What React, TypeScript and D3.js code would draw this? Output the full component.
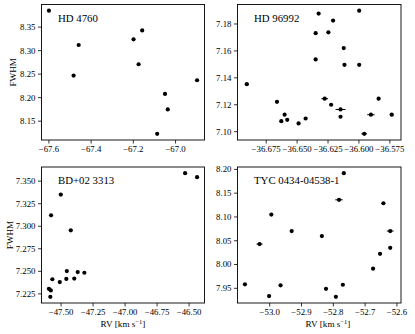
import * as d3 from "d3";

// HD 4760
const hd4760RV = [-67.6, -67.459, -67.483, -67.199, -67.158, -67.175, -67.05, -67.037, -67.087, -66.898];
const hd4760FWHM = [8.385, 8.312, 8.247, 8.324, 8.343, 8.271, 8.208, 8.175, 8.123, 8.237];
const hd4760Err = [0, 0, 0, 0, 0, 0, 0, 0, 0, 0];
const hd4760XTicks = [-67.6, -67.4, -67.2, -67.0];
const hd4760YTicks = [8.15, 8.2, 8.25, 8.3, 8.35];

// HD 96992
const hd96992RV = [
  -36.6907, -36.6663, -36.6601, -36.6628, -36.658, -36.6488, -36.6431, -36.6277,
  -36.6225, -36.6149, -36.6149, -36.5957, -36.5903, -36.5841, -36.5735, -36.6326,
  -36.5998, -36.6209, -36.635, -36.6247, -36.6123, -36.635, -36.6117, -36.5998,
];
const hd96992FWHM = [
  7.1353, 7.1222, 7.1126, 7.1078, 7.1088, 7.1061, 7.1098, 7.1245,
  7.12, 7.1165, 7.1111, 7.0984, 7.1126, 7.1245, 7.1126, 7.1877,
  7.1899, 7.1825, 7.1732, 7.1738, 7.1621, 7.1537, 7.1497, 7.1497,
];
const hd96992Err = [
  0.0015, 0, 0, 0, 0, 0, 0, 0.0027,
  0, 0.004, 0, 0.0023, 0.003, 0, 0.0015, 0,
  0, 0, 0, 0, 0, 0, 0, 0,
];
const hd96992XTicks = [-36.675, -36.65, -36.625, -36.6, -36.575];
const hd96992YTicks = [7.1, 7.12, 7.14, 7.16, 7.18];

// BD+02 3313
const bdRV = [
  -46.531, -46.4375, -47.502, -47.578, -47.424, -47.455, -47.37, -47.318,
  -47.568, -47.459, -47.397, -47.51, -47.595, -47.58, -47.584,
];
const bdFWHM = [
  7.3589, 7.3545, 7.3352, 7.3121, 7.2955, 7.2503, 7.2492, 7.2484,
  7.2412, 7.2416, 7.242, 7.2381, 7.2306, 7.2288, 7.2217,
];
const bdErr = bdRV.map(() => 0);
const bdXTicks = [-47.5, -47.25, -47.0, -46.75, -46.5];
const bdYTicks = [7.225, 7.25, 7.275, 7.3, 7.325, 7.35];

// TYC 0434-04538-1
const tycRV = [
  -52.767, -52.782, -52.6425, -52.995, -52.931, -52.621, -52.836, -53.032, -52.621,
  -52.653, -52.675, -53.078, -52.966, -52.77, -52.823, -53.002, -52.792,
];
const tycFWHM = [
  8.192, 8.136, 8.1288, 8.1049, 8.0704, 8.0704, 8.0598, 8.0429, 8.0351,
  8.0224, 7.9913, 7.9584, 7.9562, 7.9575, 7.949, 7.9336, 7.9321,
];
const tycErr = [0, 0.0117, 0, 0, 0, 0.0105, 0, 0.0095, 0, 0, 0, 0, 0, 0, 0, 0, 0];
const tycXTicks = [-53.0, -52.9, -52.8, -52.7, -52.6];
const tycYTicks = [7.95, 8.0, 8.05, 8.1, 8.15, 8.2];

const FONT = "'Liberation Serif', 'Times New Roman', serif";

const fmt = (v, dec) => {
  const s = Math.abs(v).toFixed(dec);
  return v < 0 ? "\u2212" + s : s;
};

// pad like matplotlib's 5% auto margins
function padded(lo, hi) {
  const m = (hi - lo) * 0.05;
  return [lo - m, hi + m];
}

function Panel({ box, name, rv, fwhm, err, xTicks, yTicks, xDec, yDec, yLabelX, xLabelX }) {
  const { left, right, top, bottom } = box;
  const xs = d3.scaleLinear()
    .domain(padded(d3.min(rv, (v, i) => v - err[i]), d3.max(rv, (v, i) => v + err[i])))
    .range([left, right]);
  const ys = d3.scaleLinear()
    .domain(padded(d3.min(fwhm), d3.max(fwhm)))
    .range([bottom, top]);

  return (
    <g fontFamily={FONT} fill="#000">
      {xTicks.map((t) => (
        <g key={"x" + t}>
          <line x1={xs(t)} x2={xs(t)} y1={bottom} y2={bottom + 3.5} stroke="#000" strokeWidth={0.8} />
          <text x={xs(t)} y={bottom + 12} fontSize={8.8} textAnchor="middle">{fmt(t, xDec)}</text>
        </g>
      ))}
      {yTicks.map((t) => (
        <g key={"y" + t}>
          <line x1={left - 3.5} x2={left} y1={ys(t)} y2={ys(t)} stroke="#000" strokeWidth={0.8} />
          <text x={left - 6} y={ys(t)} dy="0.33em" fontSize={8.8} textAnchor="end">{fmt(t, yDec)}</text>
        </g>
      ))}
      {rv.map((v, i) =>
        err[i] > 0 ? (
          <line key={"e" + i} x1={xs(v - err[i])} x2={xs(v + err[i])} y1={ys(fwhm[i])} y2={ys(fwhm[i])}
            stroke="#000" strokeWidth={1} />
        ) : null
      )}
      {rv.map((v, i) => (
        <circle key={"p" + i} cx={xs(v)} cy={ys(fwhm[i])} r={2.1} fill="#000" />
      ))}
      <rect x={left} y={top} width={right - left} height={bottom - top} fill="none" stroke="#000" strokeWidth={0.9} />
      <text x={left + 16.5} y={top + 17} fontSize={10.8}>{name}</text>
      {yLabelX != null && (
        <text transform={`translate(${yLabelX},${(top + bottom) / 2}) rotate(-90)`} dy="0.33em"
          fontSize={9.2} textAnchor="middle">FWHM</text>
      )}
      {xLabelX != null && (
        <text x={xLabelX} y={bottom + 24} fontSize={9.2} textAnchor="middle">
          RV [km s<tspan dy="-3.5" fontSize={6.5}>{"\u22121"}</tspan><tspan dy="3.5">]</tspan>
        </text>
      )}
    </g>
  );
}

export default function App() {
  return (
    <svg width={415} height={334} style={{ position: "absolute", left: 0, top: 0, background: "#fff" }}>
      <Panel box={{ left: 41.5, right: 204.5, top: 4.5, bottom: 140 }} name="HD 4760"
        rv={hd4760RV} fwhm={hd4760FWHM} err={hd4760Err} xTicks={hd4760XTicks} yTicks={hd4760YTicks}
        xDec={1} yDec={2} yLabelX={13} />
      <Panel box={{ left: 237.5, right: 401, top: 4.5, bottom: 140 }} name="HD 96992"
        rv={hd96992RV} fwhm={hd96992FWHM} err={hd96992Err} xTicks={hd96992XTicks} yTicks={hd96992YTicks}
        xDec={3} yDec={2} />
      <Panel box={{ left: 41.5, right: 204.5, top: 167, bottom: 303 }} name="BD+02 3313"
        rv={bdRV} fwhm={bdFWHM} err={bdErr} xTicks={bdXTicks} yTicks={bdYTicks}
        xDec={2} yDec={3} yLabelX={10} xLabelX={123} />
      <Panel box={{ left: 237.5, right: 401, top: 167, bottom: 303 }} name="TYC 0434-04538-1"
        rv={tycRV} fwhm={tycFWHM} err={tycErr} xTicks={tycXTicks} yTicks={tycYTicks}
        xDec={1} yDec={2} xLabelX={328} />
    </svg>
  );
}
